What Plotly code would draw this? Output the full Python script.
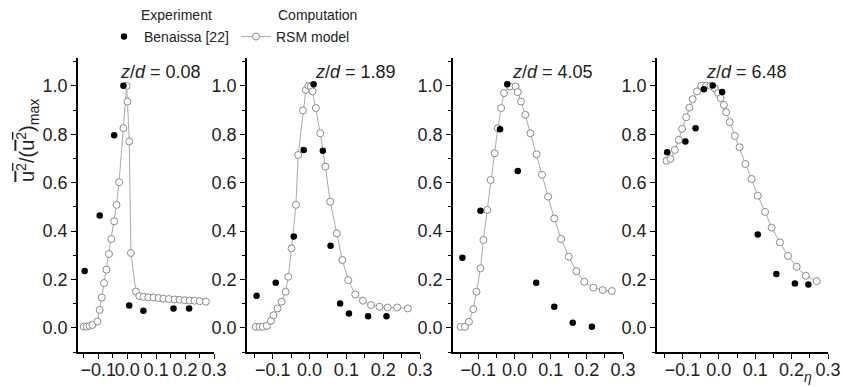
import plotly.graph_objects as go

# ---------------- data ----------------
panel_titles = ["0.08", "1.89", "4.05", "6.48"]

exp_x = [
    [-0.147, -0.095, -0.045, -0.013, 0.007, 0.056, 0.160, 0.214],
    [-0.144, -0.092, -0.043, -0.016, 0.011, 0.036, 0.057, 0.083, 0.107, 0.159, 0.209],
    [-0.144, -0.094, -0.040, -0.020, 0.009, 0.060, 0.110, 0.161, 0.214],
    [-0.142, -0.092, -0.064, -0.041, -0.017, 0.009, 0.107, 0.158, 0.209, 0.246],
]
exp_y = [
    [0.235, 0.464, 0.796, 1.000, 0.092, 0.070, 0.080, 0.080],
    [0.132, 0.186, 0.377, 0.735, 1.007, 0.732, 0.339, 0.100, 0.059, 0.048, 0.048],
    [0.290, 0.484, 0.821, 1.007, 0.648, 0.186, 0.087, 0.021, 0.004],
    [0.726, 0.770, 0.825, 0.986, 1.001, 0.974, 0.386, 0.222, 0.183, 0.179],
]

rsm_x = [
    [-0.150, -0.140, -0.130, -0.120, -0.103, -0.095, -0.088, -0.080, -0.072, -0.063, -0.055,
     -0.045, -0.037, -0.028, -0.013, -0.002, 0.001, 0.007, 0.013, 0.030, 0.042, 0.056, 0.073,
     0.091, 0.109, 0.125, 0.144, 0.164, 0.181, 0.199, 0.216, 0.233, 0.251, 0.272],
    [-0.146, -0.136, -0.127, -0.116, -0.105, -0.098, -0.087, -0.076, -0.065, -0.058, -0.049,
     -0.037, -0.031, -0.018, -0.010, -0.003, 0.003, 0.008, 0.017, 0.029, 0.043, 0.056, 0.074,
     0.089, 0.105, 0.124, 0.145, 0.167, 0.190, 0.212, 0.238, 0.267],
    [-0.149, -0.137, -0.126, -0.114, -0.105, -0.094, -0.086, -0.075, -0.066, -0.055, -0.046,
     -0.037, -0.029, -0.013, 0.003, 0.009, 0.018, 0.030, 0.044, 0.061, 0.076, 0.093, 0.110,
     0.129, 0.150, 0.171, 0.193, 0.218, 0.244, 0.269],
    [-0.144, -0.133, -0.121, -0.110, -0.101, -0.090, -0.081, -0.072, -0.060, -0.048, -0.035,
     -0.023, -0.011, -0.002, 0.005, 0.014, 0.020, 0.030, 0.044, 0.057, 0.073, 0.090, 0.107,
     0.127, 0.145, 0.168, 0.190, 0.214, 0.239, 0.269],
]
rsm_y = [
    [0.005, 0.005, 0.008, 0.012, 0.026, 0.074, 0.125, 0.185, 0.240, 0.305, 0.367, 0.440,
     0.508, 0.602, 0.825, 1.000, 0.935, 0.770, 0.309, 0.150, 0.131, 0.128, 0.126, 0.125,
     0.123, 0.120, 0.119, 0.117, 0.116, 0.114, 0.113, 0.112, 0.110, 0.108],
    [0.004, 0.004, 0.004, 0.008, 0.029, 0.052, 0.080, 0.108, 0.149, 0.211, 0.328, 0.508,
     0.714, 0.898, 0.983, 1.000, 0.997, 0.977, 0.908, 0.804, 0.666, 0.521, 0.390, 0.280,
     0.197, 0.138, 0.112, 0.094, 0.087, 0.084, 0.084, 0.080],
    [0.004, 0.004, 0.025, 0.077, 0.149, 0.246, 0.363, 0.487, 0.611, 0.721, 0.825, 0.908,
     0.970, 0.997, 0.997, 0.974, 0.935, 0.880, 0.804, 0.717, 0.632, 0.542, 0.452, 0.367,
     0.294, 0.234, 0.190, 0.166, 0.156, 0.152],
    [0.690, 0.698, 0.735, 0.777, 0.822, 0.870, 0.910, 0.945, 0.977, 1.000, 1.001, 1.000,
     0.989, 0.970, 0.949, 0.921, 0.891, 0.850, 0.793, 0.746, 0.677, 0.615, 0.546, 0.479,
     0.414, 0.353, 0.297, 0.252, 0.215, 0.193],
]

x_range = [-0.17, 0.30]
y_range = [-0.1, 1.115]

# ---------------- layout helpers ----------------
W, H = 843, 387
x_domains_px = [(78, 214), (247, 420), (453, 623), (657, 828)]
title_cx_px = [160, 355, 552, 746]
y_dom = [35 / H, 329 / H]

FONT = "Liberation Sans, Arial, Helvetica, sans-serif"
LEG_SIZE = 14

fig = go.Figure()

for i in range(4):
    xa = "x" if i == 0 else f"x{i+1}"
    ya = "y" if i == 0 else f"y{i+1}"
    fig.add_trace(go.Scatter(
        x=rsm_x[i], y=rsm_y[i], xaxis=xa, yaxis=ya, mode="lines+markers",
        name="RSM model", legend="legend2", showlegend=(i == 0),
        line=dict(color="#aaaaaa", width=1),
        marker=dict(symbol="circle", size=7, color="white",
                    line=dict(color="#8a8a8a", width=1)),
    ))
for i in range(4):
    xa = "x" if i == 0 else f"x{i+1}"
    ya = "y" if i == 0 else f"y{i+1}"
    fig.add_trace(go.Scatter(
        x=exp_x[i], y=exp_y[i], xaxis=xa, yaxis=ya, mode="markers",
        name="Benaissa [22]", legend="legend", showlegend=(i == 0),
        marker=dict(symbol="circle", size=6.5, color="black"),
    ))

layout = dict(
    width=W, height=H,
    margin=dict(l=0, r=0, t=0, b=0),
    paper_bgcolor="white", plot_bgcolor="white",
    font=dict(family=FONT, size=18, color="#222"),
)

for i in range(4):
    sfx = "" if i == 0 else str(i + 1)
    x0, x1 = x_domains_px[i]
    layout["xaxis" + sfx] = dict(
        domain=[x0 / W, x1 / W], range=x_range, anchor="y" + sfx,
        showline=True, linecolor="black", linewidth=1.5,
        ticks="outside", ticklen=5, tickwidth=1.3, tickcolor="black",
        tick0=0, dtick=0.1, tickformat=".1f", tickangle=0, ticklabelstandoff=-4,
        minor=dict(dtick=0.05, tick0=0, ticks="outside", ticklen=4, tickwidth=1.2, tickcolor="black"),
        showgrid=False, zeroline=False, fixedrange=True,
        tickfont=dict(size=18, family=FONT, color="#222"),
        automargin=False,
    )
    layout["yaxis" + sfx] = dict(
        domain=y_dom, range=y_range, anchor="x" + sfx,
        showline=True, linecolor="black", linewidth=1.5,
        ticks="outside", ticklen=5, tickwidth=1.3, tickcolor="black",
        tick0=0, dtick=0.2, tickformat=".1f",
        minor=dict(dtick=0.1, tick0=0, ticks="outside", ticklen=3, tickwidth=1.2, tickcolor="black"),
        showgrid=False, zeroline=False, fixedrange=True,
        tickfont=dict(size=18, family=FONT, color="#222"),
        automargin=False,
    )

layout["legend"] = dict(
    x=104 / W, y=(387 - 37) / H, xanchor="left", yanchor="middle",
    orientation="h", bgcolor="rgba(0,0,0,0)",
    font=dict(family=FONT, size=LEG_SIZE, color="#222"),
)
layout["legend2"] = dict(
    x=236 / W, y=(387 - 37) / H, xanchor="left", yanchor="middle",
    orientation="h", bgcolor="rgba(0,0,0,0)",
    font=dict(family=FONT, size=LEG_SIZE, color="#222"),
)

annotations = []
for i in range(4):
    annotations.append(dict(
        text=f"<i>z</i>/<i>d</i> = {panel_titles[i]}", x=title_cx_px[i] / W, y=(387 - 72) / H,
        xref="paper", yref="paper", xanchor="center", yanchor="middle", showarrow=False,
        font=dict(family=FONT, size=18, color="#222"),
    ))
annotations.append(dict(
    text="Experiment", x=139 / W, y=(387 - 15) / H, xref="paper", yref="paper",
    xanchor="left", yanchor="middle", showarrow=False,
    font=dict(family=FONT, size=LEG_SIZE, color="#222")))
annotations.append(dict(
    text="Computation", x=276 / W, y=(387 - 15) / H, xref="paper", yref="paper",
    xanchor="left", yanchor="middle", showarrow=False,
    font=dict(family=FONT, size=LEG_SIZE, color="#222")))
annotations.append(dict(
    text='<span style="text-decoration:overline">u<sup>2</sup></span>/(<span style="text-decoration:overline">u<sup>2</sup></span>)<sub>max</sub>',
    x=27 / W, y=(387 - 141) / H, xref="paper", yref="paper", textangle=-90,
    xanchor="center", yanchor="middle", showarrow=False,
    font=dict(family=FONT, size=20, color="#222")))
annotations.append(dict(
    text="<i>η</i>", x=808 / W, y=(387 - 377) / H, xref="paper", yref="paper",
    xanchor="center", yanchor="middle", showarrow=False,
    font=dict(family=FONT, size=14, color="#222")))
layout["annotations"] = annotations

fig.update_layout(**layout)
fig.write_html("out.html")
